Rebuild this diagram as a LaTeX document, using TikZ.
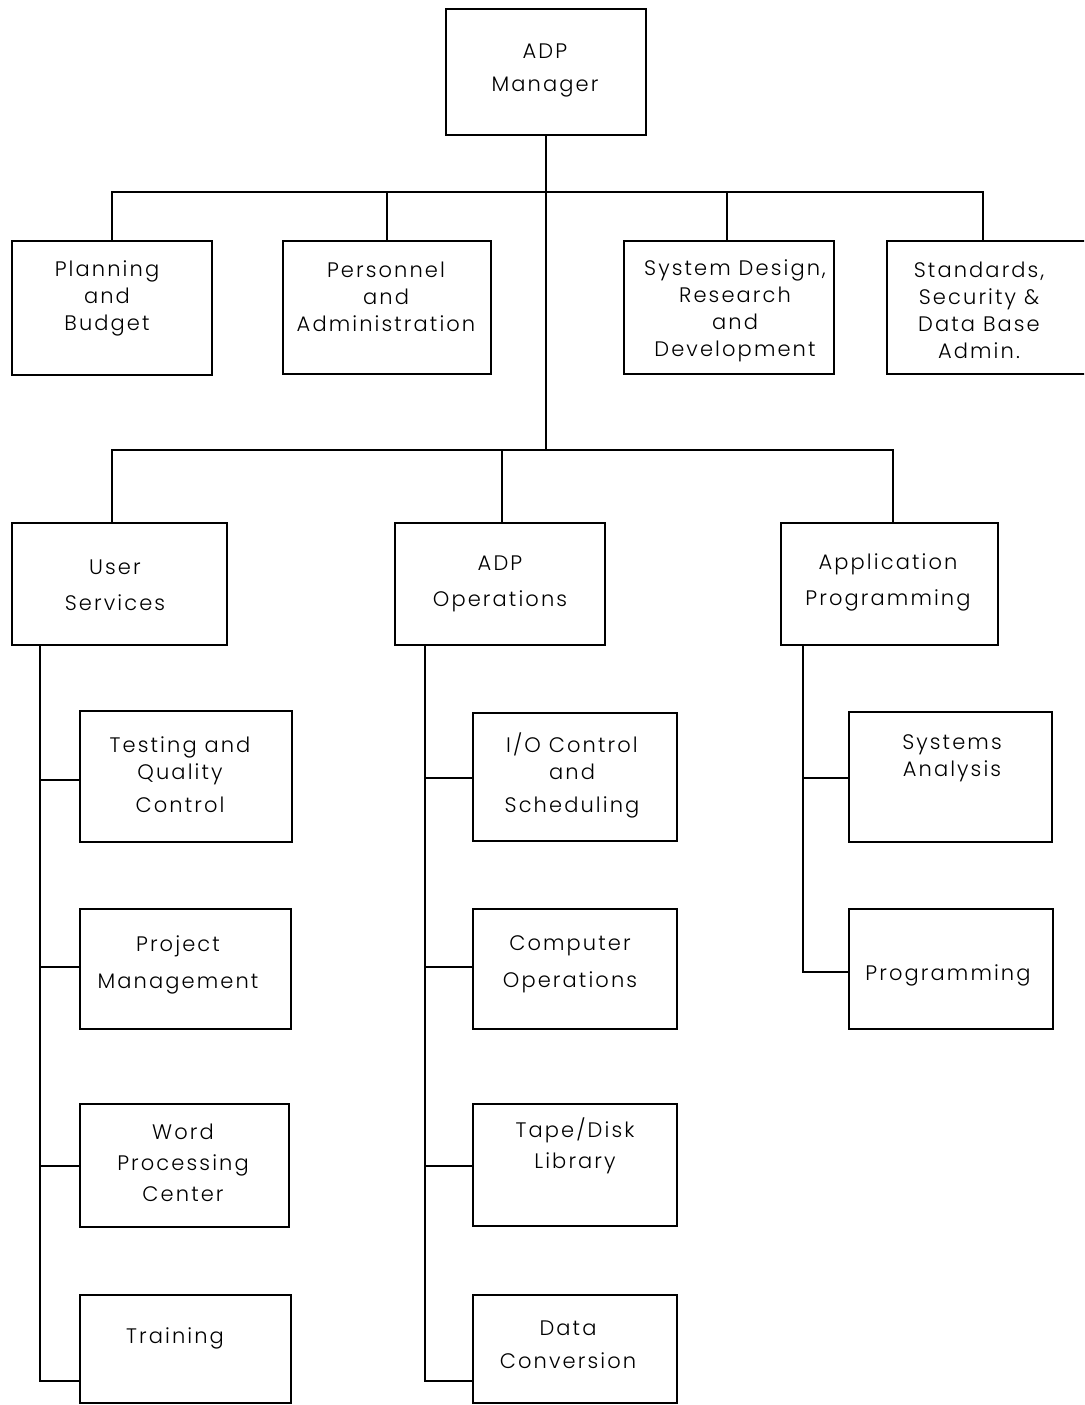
\documentclass[tikz,border=0pt]{standalone}
\usepackage{fontspec}
\setmainfont[LetterSpace=10]{Poppins Light}
\begin{document}
\begin{tikzpicture}[x=1pt,y=-1pt,
  ln/.style={line width=2.3pt},
  txt/.style={align=center,font=\fontsize{21}{27}\selectfont,inner sep=0pt}]
\useasboundingbox (0,0) rectangle (1084,1405);
\clip (0,0) rectangle (1084,1405);
\fill[white] (0,0) rectangle (1084,1405);
% boxes
\newcommand\bx[5]{\draw[ln] (#2,#3) rectangle (#4,#5); \coordinate (#1) at ({(#2+#4)/2},{(#3+#5)/2});}
\bx{mgr}{446}{9}{646}{135}
\bx{plan}{12}{241}{212}{375}
\bx{pers}{283}{241}{491}{374}
\bx{sysd}{624}{241}{834}{374}
\bx{std}{887}{241}{1095}{374}
\bx{user}{12}{523}{227}{645}
\bx{ops}{395}{523}{605}{645}
\bx{app}{781}{523}{998}{645}
\bx{test}{80}{711}{292}{842}
\bx{proj}{80}{909}{291}{1029}
\bx{word}{80}{1104}{289}{1227}
\bx{train}{80}{1295}{291}{1403}
\bx{io}{473}{713}{677}{841}
\bx{comp}{473}{909}{677}{1029}
\bx{tape}{473}{1104}{677}{1226}
\bx{data}{473}{1295}{677}{1403}
\bx{sa}{849}{712}{1052}{842}
\bx{prog}{849}{909}{1053}{1029}
% texts
\node[txt] (tmgr) at (545,70) {ADP\\[6pt]Manager};
\node[txt] (tplan) at (107,298) {Planning\\and\\Budget};
\node[txt] (tpers) at (386,297) {Personnel\\and\\Administration};
\node[txt] (tsysd) at (735,311) {System Design,\\Research\\and\\Development};
\node[txt] (tstd) at (979,310) {Standards,\\Security \&\\Data Base\\Admin.};
\node[txt] (tuser) at (115,585) {User\\[9pt]Services};
\node[txt] (tops) at (500,584) {ADP\\[9pt]Operations};
\node[txt] (tapp) at (888,582) {Application\\[9pt]Programming};
\node[txt] (ttest) at (180,775) {Testing and\\Quality\\[6pt]Control};
\node[txt] (tproj) at (178,965) {Project\\[10pt]Management};
\node[txt] (tword) at (183,1163) {Word\\[4pt]Processing\\[4pt]Center};
\node[txt] (ttrain) at (175,1338) {Training};
\node[txt] (tio) at (572,775) {I/O Control\\and\\[6pt]Scheduling};
\node[txt] (tcomp) at (570,964) {Computer\\[10pt]Operations};
\node[txt] (ttape) at (575,1146) {Tape/Disk\\[4pt]Library};
\node[txt] (tdata) at (568,1345) {Data\\[6pt]Conversion};
\node[txt] (tsa) at (952,758) {Systems\\Analysis};
\node[txt] (tprog) at (948,975) {Programming};
% connectors
\coordinate (b1) at (546,192);
\coordinate (b2) at (546,450);
\draw[ln] (546,135) -- (b2);
\draw[ln] (112,241) -- (112,192) -- (983,192) -- (983,241);
\draw[ln] (387,192) -- (387,241);
\draw[ln] (727,192) -- (727,241);
\draw[ln] (112,523) -- (112,450) -- (893,450) -- (893,523);
\draw[ln] (502,450) -- (502,523);
% user services
\draw[ln] (40,645) -- (40,1381) -- (80,1381);
\draw[ln] (40,780) -- (80,780);
\draw[ln] (40,967) -- (80,967);
\draw[ln] (40,1166) -- (80,1166);
% ops
\draw[ln] (425,645) -- (425,1381) -- (473,1381);
\draw[ln] (425,778) -- (473,778);
\draw[ln] (425,967) -- (473,967);
\draw[ln] (425,1166) -- (473,1166);
% app
\draw[ln] (803,645) -- (803,972) -- (849,972);
\draw[ln] (803,778) -- (849,778);
\end{tikzpicture}
\end{document}
